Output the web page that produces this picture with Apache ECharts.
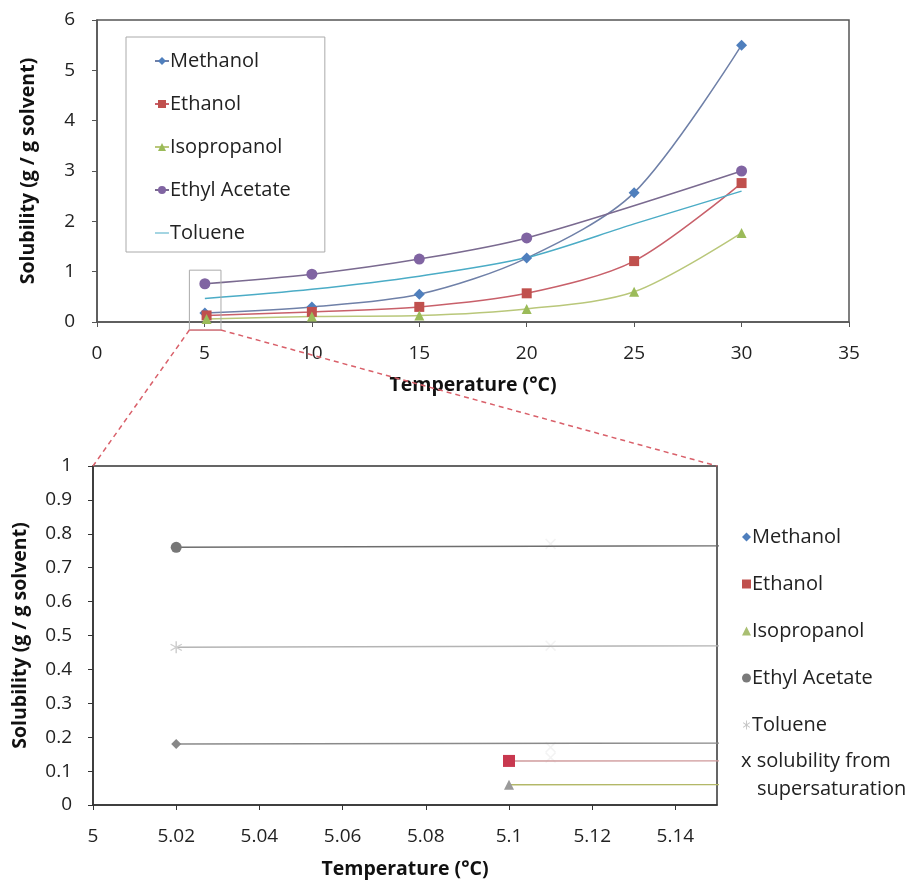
<!DOCTYPE html>
<html>
<head>
<meta charset="utf-8">
<script src="https://cdn.jsdelivr.net/npm/echarts@6/dist/echarts.min.js"></script>
<style>
  html, body { margin: 0; padding: 0; background: #fff; }
  #chart-root { width: 912px; height: 880px; }
</style>
</head>
<body>
<div id="chart-root"></div>
<script>
// temperatures (°C) and solubilities (g / g solvent)
const methanolT = [5.02, 10, 15, 20, 25, 30];
const methanolS = [0.18, 0.30, 0.55, 1.27, 2.57, 5.50];
const ethanolT = [5.1, 10, 15, 20, 25, 30];
const ethanolS = [0.13, 0.20, 0.30, 0.57, 1.21, 2.76];
const isopropanolT = [5.1, 10, 15, 20, 25, 30];
const isopropanolS = [0.06, 0.11, 0.13, 0.26, 0.60, 1.77];
const ethylAcetateT = [5.02, 10, 15, 20, 30];
const ethylAcetateS = [0.76, 0.95, 1.25, 1.67, 3.00];
const tolueneT = [5.02, 10, 15, 20, 25, 30];
const tolueneS = [0.465, 0.65, 0.91, 1.28, 1.95, 2.60];
// faint "x" points (solubility from supersaturation) in the zoomed view
const superT = [5.11, 5.11, 5.11, 5.11];
const superS = [0.77, 0.47, 0.17, 0.14];

const names = ["Methanol", "Ethanol", "Isopropanol", "Ethyl Acetate", "Toluene"];
const superName = "x solubility from supersaturation";

const font = "'Open Sans', sans-serif";
const asterisk = "path://M5 0h1v4l3-2 .5 .8L6.3 5l3.2 2.2L9 8 6 6v4H5V6L2 8l-.5-.8L4.7 5 1.5 2.8 2 2l3 2z";
// short line only, padded so it keeps its thin shape in the legend
const shortLine = "path://M0 4.4h14v1.2H0z M0 0h.01v.01H0z M14 10h.01v.01H14z";

function pairs(xs, ys) {
  return xs.map((x, i) => [x, ys[i]]);
}

let chart = echarts.init(document.getElementById("chart-root"));

function lineSeries(name, xs, ys, grid, color, lineColor, symbol, size) {
  return {
    name: name,
    type: "line",
    xAxisIndex: grid,
    yAxisIndex: grid,
    smooth: 0.3,
    clip: true,
    symbol: symbol,
    symbolSize: size,
    showSymbol: symbol !== "none",
    itemStyle: { color: color },
    lineStyle: { color: lineColor, width: 1.5 },
    emphasis: { disabled: true },
    data: pairs(xs, ys),
    z: 3
  };
}

let axisLine = { show: true, lineStyle: { color: "#555", width: 1.5 } };
let axisLabel = { color: "#222", fontSize: 19, fontFamily: font };
let nameStyle = { color: "#111", fontSize: 19.5, fontWeight: "bold", fontFamily: font };
let legendText = { color: "#222", fontSize: 20, fontFamily: font, lineHeight: 20, padding: [0, 0, 0, -4] };

let option = {
  animation: false,
  backgroundColor: "#fff",
  grid: [
    { left: 97, top: 20, width: 752, height: 302, show: true, borderColor: "#555", borderWidth: 1.5 },
    { left: 93, top: 466, width: 624, height: 340, show: true, borderColor: "#333", borderWidth: 1.5 }
  ],
  legend: [
    {
      orient: "vertical",
      left: 126,
      top: 37,
      padding: [14, 34, 9, 28],
      borderColor: "#aaa",
      borderWidth: 1,
      itemGap: 23,
      itemWidth: 14,
      itemHeight: 10,
      selectedMode: false,
      textStyle: legendText,
      data: [
        "Methanol", "Ethanol", "Isopropanol", "Ethyl Acetate",
        { name: "Toluene", icon: shortLine, itemStyle: { color: "#4bacc6" } }
      ]
    },
    {
      orient: "vertical",
      left: 742,
      top: 527,
      padding: 0,
      itemGap: 27,
      itemWidth: 9,
      itemHeight: 9,
      selectedMode: false,
      textStyle: legendText,
      data: [
        { name: "Methanol", icon: "diamond", itemStyle: { color: "#4f7fbd" } },
        { name: "Ethanol", icon: "rect", itemStyle: { color: "#c0504d" } },
        { name: "Isopropanol", icon: "triangle", itemStyle: { color: "#a9bf72" } },
        { name: "Ethyl Acetate", icon: "circle", itemStyle: { color: "#7a7a7a" } },
        { name: "Toluene", icon: asterisk, itemStyle: { color: "#c4c4c4" } }
      ]
    }
  ],
  xAxis: [
    {
      gridIndex: 0, type: "value", min: 0, max: 35, interval: 5,
      axisLine: axisLine,
      axisTick: { show: true, length: 5, lineStyle: { color: "#555" } },
      axisLabel: Object.assign({ margin: 22 }, axisLabel),
      splitLine: { show: false },
      name: "Temperature (°C)", nameLocation: "middle", nameGap: 53, nameTextStyle: nameStyle
    },
    {
      gridIndex: 1, type: "value", min: 5, max: 5.15, interval: 0.02,
      axisLine: { show: true, lineStyle: { color: "#333", width: 1.5 } },
      axisTick: { show: true, length: 5, lineStyle: { color: "#333" } },
      axisLabel: Object.assign({
        margin: 22,
        showMaxLabel: false,
        formatter: v => (v > 5.145 ? "" : String(+v.toFixed(2)))
      }, axisLabel),
      splitLine: { show: false },
      name: "Temperature (°C)", nameLocation: "middle", nameGap: 54, nameTextStyle: nameStyle
    }
  ],
  yAxis: [
    {
      gridIndex: 0, type: "value", min: 0, max: 6, interval: 1,
      axisLine: axisLine,
      axisTick: { show: true, length: 5, lineStyle: { color: "#555" } },
      axisLabel: Object.assign({ margin: 22 }, axisLabel),
      splitLine: { show: false },
      name: "Solubility (g / g solvent)", nameLocation: "middle", nameGap: 59, nameTextStyle: nameStyle
    },
    {
      gridIndex: 1, type: "value", min: 0, max: 1, interval: 0.1,
      axisLine: { show: true, lineStyle: { color: "#333", width: 1.5 } },
      axisTick: { show: true, length: 5, lineStyle: { color: "#333" } },
      axisLabel: Object.assign({ margin: 21, formatter: v => String(+v.toFixed(1)) }, axisLabel),
      splitLine: { show: false },
      name: "Solubility (g / g solvent)", nameLocation: "middle", nameGap: 63, nameTextStyle: nameStyle
    }
  ],
  series: [
    // overview chart
    lineSeries("Methanol", methanolT, methanolS, 0, "#4f7fbd", "#6f80a8", "diamond", 11),
    lineSeries("Ethanol", ethanolT, ethanolS, 0, "#c0504d", "#c8606a", "rect", 10),
    lineSeries("Isopropanol", isopropanolT, isopropanolS, 0, "#9bbb59", "#b9c77a", "triangle", 10),
    lineSeries("Ethyl Acetate", ethylAcetateT, ethylAcetateS, 0, "#8064a2", "#7a6a90", "circle", 11),
    lineSeries("Toluene", tolueneT, tolueneS, 0, "#4bacc6", "#4bacc6", "none", 0),
    // zoomed chart
    lineSeries("Methanol", methanolT, methanolS, 1, "#888", "#8a8a8a", "diamond", 10),
    lineSeries("Ethanol", ethanolT, ethanolS, 1, "#c8384f", "#cf9a9c", "rect", 12),
    lineSeries("Isopropanol", isopropanolT, isopropanolS, 1, "#9a9a9a", "#b3b868", "triangle", 10),
    lineSeries("Ethyl Acetate", ethylAcetateT, ethylAcetateS, 1, "#777", "#6e6e6e", "circle", 11),
    lineSeries("Toluene", tolueneT, tolueneS, 1, "#cfcfcf", "#b4b4b4", asterisk, 12),
    {
      name: superName,
      type: "scatter",
      xAxisIndex: 1,
      yAxisIndex: 1,
      symbol: "path://M0 1L1 0 5 4 9 0 10 1 6 5 10 9 9 10 5 6 1 10 0 9 4 5z",
      symbolSize: 11,
      itemStyle: { color: "#f0f0f0" },
      data: pairs(superT, superS),
      z: 2
    }
  ]
};

chart.setOption(option);

// zoom box on the overview and the dashed leader lines down to the zoomed chart
let boxA = chart.convertToPixel({ gridIndex: 0 }, [4.3, 1.03]);
let boxB = chart.convertToPixel({ gridIndex: 0 }, [5.77, -0.16]);
let zoomL = chart.convertToPixel({ gridIndex: 1 }, [5, 1]);
let zoomR = chart.convertToPixel({ gridIndex: 1 }, [5.15, 1]);
let red = "#d9606a";

chart.setOption({
  graphic: [
    {
      type: "rect",
      shape: { x: boxA[0], y: boxA[1], width: boxB[0] - boxA[0], height: boxB[1] - boxA[1] },
      style: { fill: "none", stroke: "#aaa", lineWidth: 1 },
      z: 10
    },
    {
      type: "line",
      shape: { x1: boxA[0], y1: boxB[1], x2: boxB[0], y2: boxB[1] },
      style: { stroke: red, lineWidth: 1.2 },
      z: 11
    },
    {
      type: "line",
      shape: { x1: boxA[0], y1: boxB[1], x2: zoomL[0], y2: zoomL[1] },
      style: { stroke: red, lineWidth: 1.5, lineDash: [5, 4] },
      z: 11
    },
    {
      type: "line",
      shape: { x1: boxB[0], y1: boxB[1], x2: zoomR[0], y2: zoomR[1] },
      style: { stroke: red, lineWidth: 1.5, lineDash: [5, 4] },
      z: 11
    },
    {
      type: "text",
      left: 741,
      top: 751,
      style: { text: "x solubility from", fill: "#222", fontSize: 20, fontFamily: font }
    },
    {
      type: "text",
      left: 757,
      top: 779,
      style: { text: "supersaturation", fill: "#222", fontSize: 20, fontFamily: font }
    }
  ]
});
</script>
</body>
</html>
